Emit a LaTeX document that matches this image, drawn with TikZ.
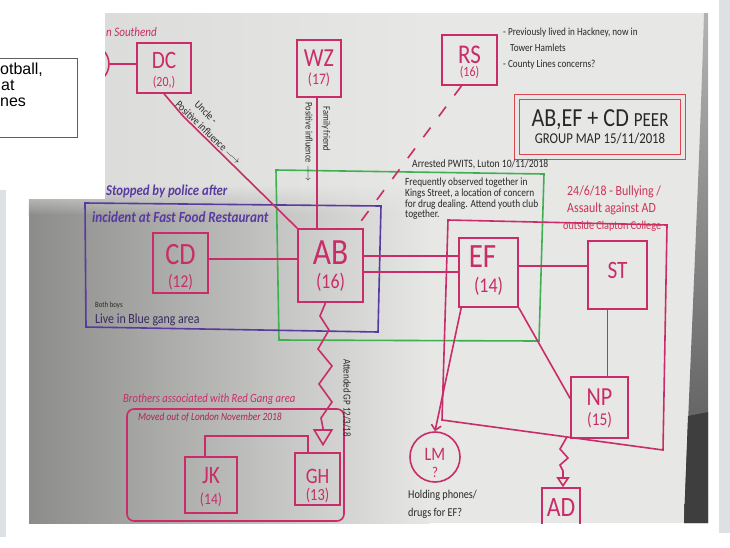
\documentclass[tikz,border=0pt]{standalone}
\usepackage{fontspec}
\usetikzlibrary{arrows.meta,calc,fadings}
\newfontfamily\hand{Carlito}[FakeStretch=0.85]
\newfontfamily\arialfont{Liberation Sans}
\newcommand\hfs[1]{\hand\fontsize{#1}{#1}\selectfont}

\definecolor{pen}{RGB}{200,45,105}
\definecolor{penred}{RGB}{206,50,86}
\definecolor{titlered}{RGB}{218,70,82}
\definecolor{ink}{RGB}{40,40,40}
\definecolor{violetpen}{RGB}{88,58,160}
\definecolor{violetink}{RGB}{55,40,95}
\definecolor{greenpen}{RGB}{62,176,82}
\definecolor{paper}{RGB}{231,231,229}
\definecolor{paperedge}{RGB}{140,140,138}
\definecolor{panel}{RGB}{222,225,227}
\definecolor{frame}{RGB}{95,95,95}
\definecolor{backdrop}{RGB}{62,62,62}

\tikzfading[name=fadeup, top color=transparent!100, bottom color=transparent!0]

\tikzset{
  pen line/.style={draw=pen, line width=1.6pt},
  person/.style={draw=pen, line width=1.6pt, rectangle, inner sep=0pt},
  tag/.style={inner sep=0pt, text=pen, font=\hfs{#1}},
  ann/.style={inner sep=0pt, anchor=west, text=ink, font=\hfs{#1}},
  annit/.style={ann=#1, font=\hfs{#1}\itshape},
  annbi/.style={ann=#1, font=\hfs{#1}\bfseries\itshape},
}

\begin{document}
\begin{tikzpicture}[x=1pt,y=-1pt]
\useasboundingbox (0,0) rectangle (730,547);
\fill[white] (0,0) rectangle (730,547);

% photographed sheet of paper
\fill[paper] (29,13) rectangle (708,523);
\shade[left color=paper!94!black, right color=paper] (29,13) rectangle (430,523);
\shade[left color=paperedge, right color=paper] (29,214) rectangle (430,523);
\shade[left color=paperedge, right color=paper, path fading=fadeup] (29,185) rectangle (430,215);
% backdrop beyond the right edge of the sheet
\shade[top color=black!30, bottom color=black!68]
  (708,13) -- (704,13) .. controls (699,180) and (691,340) .. (684,523) -- (708,523) -- cycle;
\fill[backdrop] (688,416) -- (708,412) -- (708,523) -- (684,523) -- cycle;

\begin{scope}
\clip (29,13) rectangle (708,523);

% group outlines
\draw[draw=greenpen, line width=1.6pt] (276,170) -- (544,174) -- (539,341) -- (279,340) -- cycle;
\draw[draw=violetpen, line width=1.6pt] (85,203) -- (381,206) -- (378,332) -- (86,327) -- cycle;
\draw[pen line] (448,220) coordinate (bq1) -- (667,225) coordinate (bq2)
  -- (663,450) coordinate (bq3) -- (442,420) coordinate (bq4) -- cycle;
\draw[pen line, rounded corners=7pt] (127,409) rectangle (344,521);

% people
\node[draw=pen, line width=1.6pt, circle, minimum size=38pt, inner sep=0pt] (SC) at (90,64) {};
\node[person, minimum width=54pt, minimum height=50pt] (DC) at (164,68) {};
\node[tag=25] (DC-n) at ($(DC)+(0,-8)$) {DC};
\node[tag=14] (DC-a) at ($(DC)+(0,14)$) {(20,)};

\node[person, minimum width=44pt, minimum height=57pt] (WZ) at (319,68.5) {};
\node[tag=26] (WZ-n) at ($(WZ)+(0,-10.5)$) {WZ};
\node[tag=16] (WZ-a) at ($(WZ)+(0,11)$) {(17)};

\node[person, minimum width=55pt, minimum height=50pt] (RS) at (469.5,60) {};
\node[tag=27] (RS-n) at ($(RS)+(0,-5)$) {RS};
\node[tag=14] (RS-a) at ($(RS)+(0,12)$) {(16)};

\node[person, minimum width=55pt, minimum height=60pt] (CD) at (180.5,263) {};
\node[tag=31] (CD-n) at ($(CD)+(0,-8)$) {CD};
\node[tag=18] (CD-a) at ($(CD)+(0,19)$) {(12)};

\node[person, minimum width=65pt, minimum height=73pt] (AB) at (330.5,265.5) {};
\node[tag=37] (AB-n) at ($(AB)+(0,-12.5)$) {AB};
\node[tag=21] (AB-a) at ($(AB)+(0,16.5)$) {(16)};

\node[person, minimum width=59pt, minimum height=69pt] (EF) at (488.5,272.5) {};
\node[tag=34] (EF-n) at ($(EF)+(-6,-15.5)$) {EF};
\node[tag=21] (EF-a) at ($(EF)+(0,13.5)$) {(14)};

\node[person, minimum width=59pt, minimum height=68pt] (ST) at (617.5,275) {};
\node[tag=25] (ST-n) at ($(ST)+(0,-5)$) {ST};

\node[person, minimum width=57pt, minimum height=61pt] (NP) at (599.5,407.5) {};
\node[tag=26] (NP-n) at ($(NP)+(0,-10.5)$) {NP};
\node[tag=18] (NP-a) at ($(NP)+(0,12.5)$) {(15)};

\node[person, minimum width=52pt, minimum height=56pt] (JK) at (211,485) {};
\node[tag=25] (JK-n) at ($(JK)+(0,-9)$) {JK};
\node[tag=16] (JK-a) at ($(JK)+(0,15)$) {(14)};

\node[person, minimum width=45pt, minimum height=52pt] (GH) at (317.5,479) {};
\node[tag=22] (GH-n) at ($(GH)+(0,-3)$) {GH};
\node[tag=17] (GH-a) at ($(GH)+(0,16)$) {(13)};

\node[draw=pen, line width=1.6pt, circle, minimum size=50pt, inner sep=0pt] (LM) at (435,457) {};
\node[tag=19] (LM-n) at ($(LM)+(0,-3)$) {LM};
\node[tag=15] (LM-a) at ($(LM)+(0,15)$) {?};

\node[person, minimum width=38pt, minimum height=52pt] (AD) at (561,514) {};
\node[tag=28] (AD-n) at ($(AD)+(0,-6)$) {AD};

% title
\node[draw=titlered, line width=1.2pt, double=paper, double distance=4.5pt,
      minimum width=166pt, minimum height=60pt, inner sep=0pt, align=center,
      text=ink, font=\hand\fontsize{15}{16.4}\selectfont] (TT) at (600,127)
  {{\fontsize{26}{26}\selectfont AB,EF + CD {\fontsize{20}{20}\selectfont PEER}}\\GROUP MAP 15/11/2018};

% connectors
\draw[pen line] (SC.east) -- (SC.east -| DC.west);
\coordinate (dck) at (183,116);
\draw[pen line] (DC.south) -- (dck) -- (AB.north west);
\coordinate (wz1) at ($(WZ.south)+(-2,0)$);
\draw[pen line] (wz1) -- (wz1 |- AB.north);
\draw[pen line, dash pattern=on 12pt off 14pt] ($(RS.south)+(-8,0)$) -- ($(AB.north east)+(-8,0)$);
\coordinate (cd1) at ($(CD.east)+(0,-4)$);
\draw[pen line] (cd1) -- (cd1 -| AB.west);
\coordinate (ab1) at ($(AB.east)+(0,-9.5)$);
\coordinate (ab2) at ($(AB.east)+(0,6.5)$);
\draw[pen line] (ab1) -- (ab1 -| EF.west);
\draw[pen line] (ab2) -- (ab2 -| EF.west);
\coordinate (ef1) at ($(EF.east)+(0,-6.5)$);
\draw[pen line] (ef1) -- (ef1 -| ST.west);
\coordinate (st1) at ($(ST.south)+(-10,0)$);
\draw[pen line] (st1) -- (st1 |- NP.north);
\draw[pen line] (EF.south east) -- ($(NP.west)+(0,-9)$);
\draw[pen line, -{Straight Barb[length=5pt,width=10pt]}] ($(EF.south west)+(3,0)$) -- (LM.north);
\draw[pen line, -{Triangle[open,length=17pt,width=20pt]}]
  ($(AB.south)+(-5,0)$) -- (320,316) -- (329,330) -- (318,349) -- (332,366) -- (319,384)
  -- (332,402) -- (321,418) -- (323,428) -- ($(GH.north)+(5.5,-6)$);
\draw[pen line, -{Triangle[open,length=10pt,width=13pt]}]
  ($(bq4)!0.565!(bq3)$) -- (560,449) -- (568,458) -- (560,465) -- (563,471) -- ($(AD.north)+(2,0)$);
\draw[pen line] ($(JK.north)+(-6,0)$) -- ++(0,-20) -| ($(GH.north)+(-9.5,0)$);

% notes
\node[annit=13, text=pen] (south) at (106,32) {n Southend};
\node[ann=10.8] (rs1) at (503,33) {- Previously lived in Hackney, now in};
\node[ann=10.8] (rs2) at (510,48) {Tower Hamlets};
\node[ann=10.8] (rs3) at (503,65) {- County Lines concerns?};
\node[ann=11.3] (arr) at (412,164) {Arrested PWITS, Luton 10/11/2018};
\node[ann=11, anchor=north west, align=left, font=\hand\fontsize{11}{10.7}\selectfont] (obs) at (405,178)
  {Frequently observed together in\\Kings Street, a location of concern\\for drug dealing. Attend youth club\\together.};
\node[annbi=15, text=violetpen] (stp) at (106,191) {Stopped by police after};
\node[annbi=15.5, text=violetpen] (inc) at (92,217) {incident at Fast Food Restaurant};
\node[ann=8] (both) at (95,305) {Both boys};
\node[ann=14, text=violetink] (blue) at (95,320) {Live in Blue gang area};
\node[ann=14, anchor=north west, align=left, text=penred, font=\hand\fontsize{14}{17}\selectfont] (bully) at (567,186)
  {24/6/18 - Bullying /\\Assault against AD\\\hspace*{-4pt}{\fontsize{12}{17}\selectfont outside Clapton College}};
\node[annit=12.5, text=pen] (br1) at (123,399) {Brothers associated with Red Gang area};
\node[annit=11, text=pen!85!black] (br2) at (138,417) {Moved out of London November 2018};
\node[ann=10.5, anchor=center, rotate=-90] (gp) at (347,398) {Attended GP 12/3/18};
\node[ann=12] (hp1) at (408,495) {Holding phones/};
\node[ann=12] (hp2) at (408,513) {drugs for EF?};
\node[ann=10, anchor=center, rotate=-90] (ff) at (326,129) {Family friend};
\node[ann=10, anchor=center, rotate=-90] (pi1) at (309,142) {Positive influence $\longrightarrow$};
\node[ann=11, anchor=center, rotate=-44, align=left, font=\hand\fontsize{11}{13}\selectfont] (unc) at (213,128)
  {\hspace*{14pt}Uncle -\\Positive influence $\longrightarrow$};
\end{scope}

% slide elements around the photo
\fill[white] (0,0) rectangle (105,199);
\draw[frame, line width=0.8pt] (-1,58) rectangle (77,137);
\node[inner sep=0pt, anchor=base west, font=\arialfont\fontsize{16}{16}\selectfont] (tb1) at (0,74) {otball,};
\node[inner sep=0pt, anchor=base west, font=\arialfont\fontsize{16}{16}\selectfont] (tb2) at (1,90) {at};
\node[inner sep=0pt, anchor=base west, font=\arialfont\fontsize{16}{16}\selectfont] (tb3) at (0,106) {nes};
\fill[panel] (0,190) rectangle (6,537);
\fill[panel] (719,0) rectangle (730,533);
\end{tikzpicture}
\end{document}
